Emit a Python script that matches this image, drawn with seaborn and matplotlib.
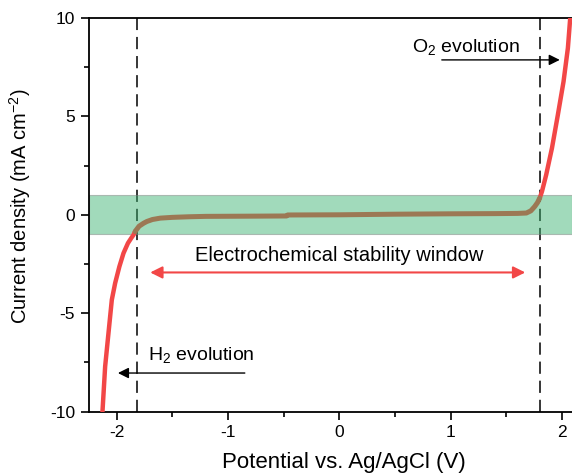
import matplotlib
matplotlib.use("Agg")
import matplotlib.pyplot as plt
import seaborn as sns
import pandas as pd

# Linear sweep voltammogram: potential (V vs. Ag/AgCl) and current density (mA cm^-2)
h2_potential = [-2.135, -2.129, -2.105, -2.075, -2.045, -2.015, -1.977, -1.94,
                -1.90, -1.87, -1.85, -1.836]
h2_current = [-10.6, -10.0, -7.71, -6.01, -4.32, -3.47, -2.63, -1.95,
              -1.44, -1.18, -1.02, -0.85]

window_potential = [-1.836, -1.80, -1.76, -1.73, -1.68, -1.61, -1.50, -1.35, -1.20, -0.80,
                    -0.475, -0.465, 0.0, 0.5, 1.0, 1.4, 1.6, 1.68, 1.72, 1.755, 1.78, 1.80]
window_current = [-0.85, -0.58, -0.43, -0.34, -0.24, -0.17, -0.13, -0.10, -0.08, -0.07,
                  -0.06, -0.01, 0.0, 0.03, 0.05, 0.06, 0.07, 0.09, 0.2, 0.42, 0.62, 0.85]

o2_potential = [1.80, 1.82, 1.858, 1.91, 1.963, 2.014, 2.053, 2.074, 2.085]
o2_current = [0.85, 1.18, 2.03, 3.39, 5.08, 6.77, 8.47, 10.0, 10.6]

h2_onset = -1.82
o2_onset = 1.80
band_limit = 1.0

x_ticks = [-2, -1, 0, 1, 2]
y_ticks = [-10, -5, 0, 5, 10]

sns.set_theme(style="ticks")
plt.rcParams["font.family"] = ["Liberation Sans", "DejaVu Sans"]
plt.rcParams["mathtext.default"] = "regular"
plt.rcParams["axes.unicode_minus"] = False

fig = plt.figure(figsize=(5.72, 4.73), dpi=100)
ax = fig.add_axes([0.1556, 0.1298, 0.8444, 0.8322])

red = "#f24747"
brown = "#9c7854"

h2_df = pd.DataFrame({"E": h2_potential, "j": h2_current})
win_df = pd.DataFrame({"E": window_potential, "j": window_current})
o2_df = pd.DataFrame({"E": o2_potential, "j": o2_current})

# Onset markers
for xv in (h2_onset, o2_onset):
    ax.axvline(xv, color="black", lw=1.1, dashes=(8, 4.5), zorder=1)

# Stability band
ax.axhspan(-band_limit, band_limit, facecolor="#3cb371", alpha=0.48,
           edgecolor="#808080", lw=0.8, zorder=2)

sns.lineplot(data=h2_df, x="E", y="j", sort=False, color=red, lw=3.2, ax=ax, zorder=3)
sns.lineplot(data=o2_df, x="E", y="j", sort=False, color=red, lw=3.2, ax=ax, zorder=3)
sns.lineplot(data=win_df, x="E", y="j", sort=False, color=brown, lw=3.6, ax=ax, zorder=4,
             solid_capstyle="round")

ax.set_xlim(-2.25, 2.09)
ax.set_ylim(-10, 10)
ax.set_xticks(x_ticks)
ax.set_yticks(y_ticks)
ax.set_xticks([-1.5, -0.5, 0.5, 1.5], minor=True)
ax.set_yticks([-7.5, -2.5, 2.5, 7.5], minor=True)
ax.tick_params(axis="both", which="major", length=6, width=1.2, direction="out",
               labelsize=12.5, color="black", labelcolor="black", pad=4)
ax.tick_params(axis="both", which="minor", length=3.5, width=1.2, direction="out",
               color="black")

for side in ("left", "bottom", "top"):
    ax.spines[side].set_color("black")
    ax.spines[side].set_linewidth(1.3)
ax.spines["right"].set_visible(False)

ax.set_xlabel("Potential vs. Ag/AgCl (V)", fontsize=16, color="black")
ax.set_ylabel("Current density (mA cm$^{-2}$)", fontsize=14.5, color="black")
ax.xaxis.set_label_coords(0.527, -0.102)
ax.yaxis.set_label_coords(-0.115, 0.521)

# Annotations
ax.annotate("", xy=(1.98, 7.87), xytext=(0.92, 7.87),
            arrowprops=dict(arrowstyle="-|>", color="black", lw=1.0, mutation_scale=16,
                            shrinkA=0, shrinkB=0))
ax.text(0.65, 8.5, "O$_2$ evolution", fontsize=14, ha="left", va="center", color="black")

ax.annotate("", xy=(-1.99, -8.04), xytext=(-0.85, -8.04),
            arrowprops=dict(arrowstyle="-|>", color="black", lw=1.0, mutation_scale=16,
                            shrinkA=0, shrinkB=0))
ax.text(-1.72, -7.1, "H$_2$ evolution", fontsize=14, ha="left", va="center", color="black")

ax.annotate("", xy=(-1.70, -2.93), xytext=(1.67, -2.93),
            arrowprops=dict(arrowstyle="<|-|>", color=red, lw=1.5, mutation_scale=18,
                            shrinkA=0, shrinkB=0))
ax.text(0.0, -2.05, "Electrochemical stability window", fontsize=14.5,
        ha="center", va="center", color="black")

fig.savefig("out.png", dpi=100)
